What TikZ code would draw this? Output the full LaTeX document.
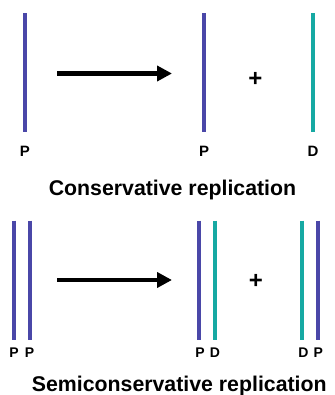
\documentclass[tikz,border=0pt]{standalone}
\usepackage{fontspec}
\setmainfont{Liberation Sans}
\usetikzlibrary{arrows.meta}
\definecolor{parent}{HTML}{4A47A8}
\definecolor{daughter}{HTML}{16A9A3}
\tikzset{
  strand/.style={line width=4pt},
  pstrand/.style={strand, draw=parent},
  dstrand/.style={strand, draw=daughter},
  bigarrow/.style={line width=4.5pt, -{Triangle[length=15pt,width=15pt]}},
  lbl/.style={anchor=base, inner sep=0pt, font=\fontsize{15}{15}\selectfont\bfseries},
  lbls/.style={anchor=base, inner sep=0pt, font=\fontsize{14}{14}\selectfont\bfseries},
  plussign/.style={inner sep=0pt, font=\fontsize{24}{24}\selectfont\bfseries},
  title/.style={anchor=base, inner sep=0pt, font=\fontsize{21.3}{22}\selectfont\bfseries}
}
\begin{document}
\begin{tikzpicture}[x=1pt,y=-1pt]
\useasboundingbox (0,0) rectangle (334,395);
% ---- Conservative ----
\draw[pstrand] (24.5,13.3) -- (24.5,131.7);
\draw[pstrand] (203.7,13.3) -- (203.7,131.7);
\draw[dstrand] (313,13.3) -- (313,131.7);
\coordinate (a1s) at (57,73.5);
\coordinate (a1e) at (172,73.5);
\draw[bigarrow] (a1s) -- (a1e);
\node[plussign] (plus1) at (255.5,79.5) {+};
\node[lbl] (l1) at (25,156.5) {P};
\node[lbl] (l2) at (204,156.5) {P};
\node[lbl] (l3) at (313,156.5) {D};
\node[title] (t1) at (172.5,195) {Conservative replication};
% ---- Semiconservative ----
\draw[pstrand] (13.8,220.7) -- (13.8,340);
\draw[pstrand] (30.2,220.7) -- (30.2,340);
\draw[pstrand] (199,220.7) -- (199,340);
\draw[dstrand] (215,220.7) -- (215,340);
\draw[dstrand] (302.3,220.7) -- (302.3,340);
\draw[pstrand] (318.3,220.7) -- (318.3,340);
\coordinate (a2s) at (57,280);
\coordinate (a2e) at (172,280);
\draw[bigarrow] (a2s) -- (a2e);
\node[plussign] (plus2) at (256,281) {+};
\node[lbls] (m1) at (14,357) {P};
\node[lbls] (m2) at (29.5,357) {P};
\node[lbls] (m3) at (200,357) {P};
\node[lbls] (m4) at (215,357) {D};
\node[lbls] (m5) at (303.3,357) {D};
\node[lbls] (m6) at (318.3,357) {P};
\node[title, anchor=base west] (t2) at (31.7,391.7) {Semiconservative replication};
\end{tikzpicture}
\end{document}
